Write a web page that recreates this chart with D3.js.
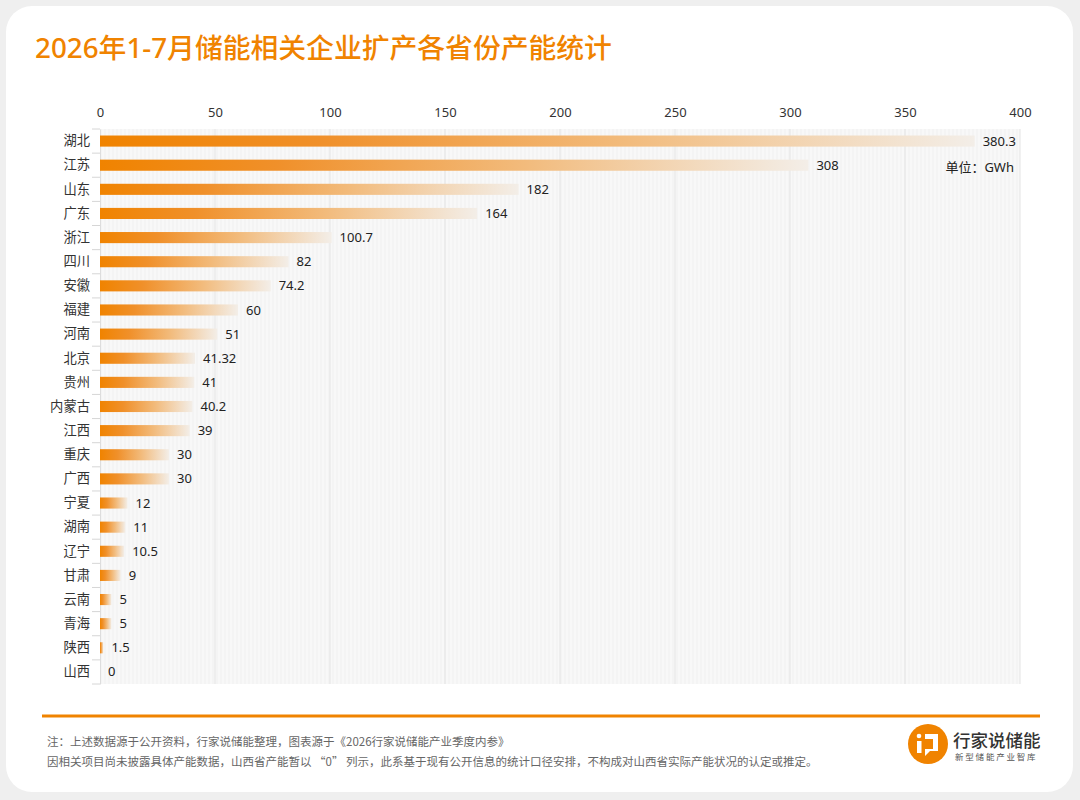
<!DOCTYPE html>
<html>
<head>
<meta charset="utf-8">
<script src="https://cdn.jsdelivr.net/npm/d3@7"></script>
<style>
  html, body { margin: 0; padding: 0; background: #efefef; }
  svg { display: block; font-family: "Noto Sans", "Noto Sans CJK SC", sans-serif; }
</style>
</head>
<body>
<div id="container"></div>
<script>
/* CONSTANTS AND GLOBALS */
const width = 1080,
  height = 800,
  margin = { top: 129, bottom: 116, left: 100, right: 60 };

// DATA
const provinces = ["湖北", "江苏", "山东", "广东", "浙江", "四川", "安徽", "福建", "河南", "北京", "贵州",
  "内蒙古", "江西", "重庆", "广西", "宁夏", "湖南", "辽宁", "甘肃", "云南", "青海", "陕西", "山西"];
const capacity = [380.3, 308, 182, 164, 100.7, 82, 74.2, 60, 51, 41.32, 41,
  40.2, 39, 30, 30, 12, 11, 10.5, 9, 5, 5, 1.5, 0];
const xTicks = [0, 50, 100, 150, 200, 250, 300, 350, 400];

const title = "2026年1-7月储能相关企业扩产各省份产能统计";
const unitText = "单位：GWh";
const notes = [
  "注：上述数据源于公开资料，行家说储能整理，图表源于《2026行家说储能产业季度内参》",
  "因相关项目尚未披露具体产能数据，山西省产能暂以 “0” 列示，此系基于现有公开信息的统计口径安排，不构成对山西省实际产能状况的认定或推定。"
];

const data = provinces.map((p, i) => ({ name: p, value: capacity[i] }));

// APPEND SVG
const svg = d3.select("#container")
  .append("svg")
  .attr("width", width)
  .attr("height", height);

const defs = svg.append("defs");

// bar gradient, stretched per bar
const grad = defs.append("linearGradient")
  .attr("id", "barGrad")
  .attr("x1", "0%").attr("x2", "100%")
  .attr("y1", "0%").attr("y2", "0%");
grad.append("stop").attr("offset", "0%").attr("stop-color", "#f08300");
grad.append("stop").attr("offset", "25%").attr("stop-color", "#f0902a");
grad.append("stop").attr("offset", "60%").attr("stop-color", "#f2bb7c");
grad.append("stop").attr("offset", "100%").attr("stop-color", "#f3eee8");

// faint stripes for plot background
const stripes = defs.append("pattern")
  .attr("id", "stripes")
  .attr("patternUnits", "userSpaceOnUse")
  .attr("width", 4).attr("height", 4);
stripes.append("rect").attr("width", 4).attr("height", 4).attr("fill", "#f8f8f8");
stripes.append("rect").attr("width", 2).attr("height", 4).attr("fill", "#f4f4f4");

// CARD
svg.append("rect")
  .attr("x", 6).attr("y", 6)
  .attr("width", 1067).attr("height", 786)
  .attr("rx", 26)
  .attr("fill", "#ffffff");

// TITLE
svg.append("text")
  .attr("x", 35).attr("y", 58)
  .attr("fill", "#f08300")
  .attr("font-size", 27.8)
  .attr("font-weight", 500)
  .text(title);

// SCALES
const xScale = d3.scaleLinear()
  .domain([0, 400])
  .range([margin.left, width - margin.right]);

const yScale = d3.scaleBand()
  .domain(provinces)
  .range([margin.top, height - margin.bottom])
  .paddingInner(0.54)
  .paddingOuter(0.27);

const plotTop = margin.top, plotBottom = height - margin.bottom;

// PLOT BACKGROUND
svg.append("rect")
  .attr("x", xScale(0))
  .attr("y", plotTop)
  .attr("width", xScale(400) - xScale(0))
  .attr("height", plotBottom - plotTop)
  .attr("fill", "url(#stripes)");

// GRID
svg.selectAll("line.grid")
  .data(xTicks.slice(1))
  .join("line")
  .attr("class", "grid")
  .attr("x1", d => xScale(d)).attr("x2", d => xScale(d))
  .attr("y1", plotTop).attr("y2", plotBottom)
  .attr("stroke", "#e4e4e4")
  .attr("stroke-width", 1);

// TOP AXIS
const xAxis = d3.axisTop(xScale)
  .tickValues(xTicks)
  .tickSize(0)
  .tickPadding(0);

svg.append("g")
  .attr("transform", `translate(0, 117)`)
  .call(xAxis)
  .call(g => g.select(".domain").remove())
  .selectAll("text")
  .attr("font-size", 13)
  .attr("fill", "#333")
  .attr("font-family", "\"Noto Sans\", sans-serif");

// LEFT AXIS
const yAxis = d3.axisLeft(yScale).tickSize(0).tickPadding(10);
const yG = svg.append("g")
  .attr("transform", `translate(${xScale(0)}, 0)`)
  .call(yAxis);
yG.select(".domain").attr("stroke", "#dddddd");
yG.selectAll("text")
  .attr("font-size", 13.3)
  .attr("fill", "#333")
  .attr("font-family", "\"Noto Sans CJK SC\", sans-serif");

// band boundary ticks
const step = yScale.step();
svg.selectAll("line.ytick")
  .data(d3.range(provinces.length + 1))
  .join("line")
  .attr("class", "ytick")
  .attr("x1", xScale(0) - 8).attr("x2", xScale(0))
  .attr("y1", i => plotTop + i * step)
  .attr("y2", i => plotTop + i * step)
  .attr("stroke", "#d6d6d6");

// BARS
svg.selectAll("rect.bar")
  .data(data.filter(d => d.value > 0))
  .join("rect")
  .attr("class", "bar")
  .attr("x", xScale(0))
  .attr("y", d => yScale(d.name))
  .attr("width", d => xScale(d.value) - xScale(0))
  .attr("height", yScale.bandwidth())
  .attr("fill", "url(#barGrad)");

// VALUE LABELS
svg.selectAll("text.value")
  .data(data)
  .join("text")
  .attr("class", "value")
  .attr("x", d => xScale(d.value) + 8)
  .attr("y", d => yScale(d.name) + yScale.bandwidth() / 2)
  .attr("dy", "0.35em")
  .attr("font-size", 13)
  .attr("fill", "#222")
  .text(d => d.value);

// UNIT
svg.append("text")
  .attr("x", 1014).attr("y", 172)
  .attr("text-anchor", "end")
  .attr("font-size", 13)
  .attr("fill", "#222")
  .text(unitText);

// FOOTER LINE
svg.append("line")
  .attr("x1", 42).attr("x2", 1040)
  .attr("y1", 716).attr("y2", 716)
  .attr("stroke", "#f08300")
  .attr("stroke-width", 3);

// NOTES
svg.selectAll("text.note")
  .data(notes)
  .join("text")
  .attr("class", "note")
  .attr("x", 47)
  .attr("y", (d, i) => 746 + i * 20)
  .attr("font-size", 11.5)
  .attr("fill", "#666")
  .attr("font-family", "\"Noto Sans CJK SC\", sans-serif")
  .text(d => d);

// LOGO
const logo = svg.append("g").attr("transform", "translate(928, 744)");
logo.append("circle").attr("r", 20).attr("fill", "#f08300");
logo.append("circle").attr("cx", -9).attr("cy", -8).attr("r", 2.3).attr("fill", "#fff");
logo.append("rect").attr("x", -11).attr("y", -3).attr("width", 4.5).attr("height", 12).attr("fill", "#fff");
logo.append("path")
  .attr("d", "M-3,-10 H10 V7 H2 L-3,12 V5 H5 V-5 H-3 Z")
  .attr("fill", "#fff");

svg.append("text")
  .attr("x", 953).attr("y", 747)
  .attr("font-size", 17.5)
  .attr("font-weight", 500)
  .attr("fill", "#333")
  .attr("font-family", "\"Noto Sans CJK SC\", sans-serif")
  .text("行家说储能");

svg.append("text")
  .attr("x", 955).attr("y", 760)
  .attr("font-size", 8.5)
  .attr("letter-spacing", 1.8)
  .attr("fill", "#555")
  .attr("font-family", "\"Noto Sans CJK SC\", sans-serif")
  .text("新型储能产业智库");
</script>
</body>
</html>
